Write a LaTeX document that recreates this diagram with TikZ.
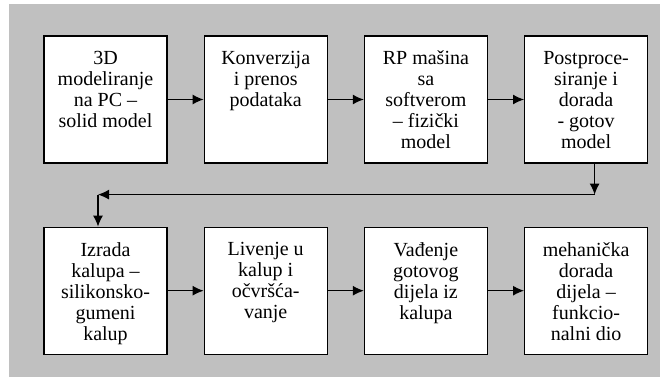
\documentclass[tikz,border=0pt]{standalone}
\usepackage{fontspec}
\setmainfont{Liberation Serif}
\usetikzlibrary{arrows.meta,calc,positioning}
\definecolor{bggray}{RGB}{192,192,192}
\tikzstyle{block} = [draw, fill=white, line width=1.2pt, inner xsep=6.5pt, inner ysep=11pt]
\tikzstyle{arrow} = [line width=1.2pt, -{Latex[length=11pt,width=10pt]}]
\newcommand{\btext}[1]{\parbox[t][105pt][t]{110pt}{\vspace*{4pt}\centering\fontsize{20pt}{21pt}\selectfont #1}}

\begin{document}
\begin{tikzpicture}[node distance=36pt]
\useasboundingbox (0,0) rectangle (660pt,-377pt);
\fill[bggray] (9pt,-4pt) rectangle (660pt,-377pt);
%first row
\node[block] (b1) at (105.5pt,-99.5pt) {\btext{3D\\ modeliranje\\ na PC --\\ solid model}};
\node[block,right=of b1] (b2) {\btext{Konverzija\\ i prenos\\ podataka}};
\node[block,right=of b2] (b3) {\btext{RP mašina\\ sa\\ softverom\\ -- fizički\\ model}};
\node[block,right=of b3] (b4) {\btext{Postproce-\\ siranje i\\ dorada\\ - gotov\\ model}};
%second row
\node[block,below=63pt of b1] (b5) {\btext{Izrada\\ kalupa --\\ silikonsko-\\ gumeni\\ kalup}};
\node[block,right=of b5] (b6) {\btext{Livenje u\\ kalup i\\ očvršća-\\ vanje}};
\node[block,right=of b6] (b7) {\btext{Vađenje\\ gotovog\\ dijela iz\\ kalupa}};
\node[block,right=of b7] (b8) {\btext{mehanička\\ dorada\\ dijela --\\ funkcio-\\ nalni dio}};

\draw[arrow] (b1) -- (b2);
\draw[arrow] (b2) -- (b3);
\draw[arrow] (b3) -- (b4);
\draw[arrow] (b5) -- (b6);
\draw[arrow] (b6) -- (b7);
\draw[arrow] (b7) -- (b8);
%return line
\coordinate (c1) at ([xshift=8.5pt,yshift=-31pt]b4.south);
\coordinate (c2) at ([xshift=-7.5pt]b5.north |- c1);
\draw[arrow] ([xshift=8.5pt]b4.south) -- (c1);
\draw[arrow] (c1) -- (c2);
\draw[arrow] (c2) -- (c2 |- b5.north);
\end{tikzpicture}
\end{document}
